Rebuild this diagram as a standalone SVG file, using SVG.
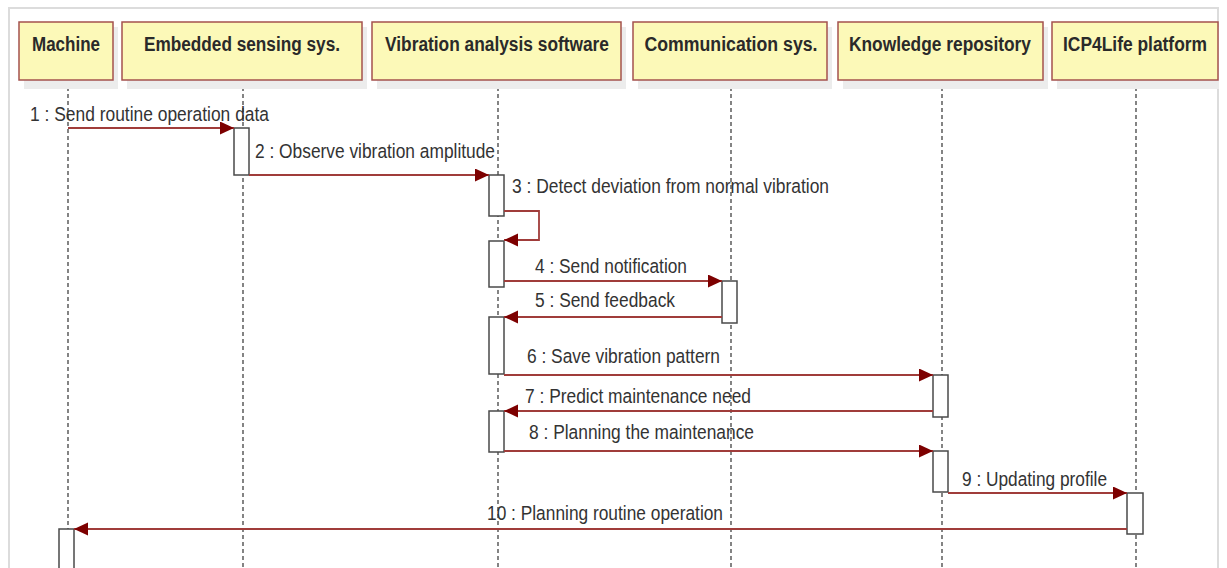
<svg xmlns="http://www.w3.org/2000/svg" width="1227" height="568" viewBox="0 0 1227 568">
<style>
.frame{fill:#fff;stroke:#dcdcdc;stroke-width:2}
.hdr{fill:#fcf9b8;stroke:#a4524e;stroke-width:1.5}
.shadow{fill:#ececec}
.ht{font-family:"Liberation Sans Narrow","Liberation Sans",Arial,sans-serif;font-weight:bold;font-size:20px;fill:#2a2a2a;text-anchor:middle}
.life{stroke:#333;stroke-width:1.2;stroke-dasharray:4 3;fill:none}
.act{fill:#fff;stroke:#4a4a4a;stroke-width:1.5}
.msg{stroke:#a03c3a;stroke-width:1.8;fill:none}
.lbl{font-family:"Liberation Sans Narrow","Liberation Sans",Arial,sans-serif;font-size:20.5px;fill:#333}
</style>
<defs>
<marker id="ah" markerUnits="userSpaceOnUse" markerWidth="16" markerHeight="14" refX="14" refY="6.5" orient="auto">
<path d="M0,0 L14,6.5 L0,13 Z" fill="#7d0000"/>
</marker>
</defs>
<rect x="0" y="0" width="1227" height="568" fill="#fff"/>
<rect class="frame" x="9" y="8" width="1209" height="600"/>

<g id="lifelines">
<line class="life" x1="68" y1="80" x2="68" y2="568"/>
<line class="life" x1="243" y1="80" x2="243" y2="568"/>
<line class="life" x1="498" y1="80" x2="498" y2="568"/>
<line class="life" x1="731" y1="80" x2="731" y2="568"/>
<line class="life" x1="942" y1="80" x2="942" y2="568"/>
<line class="life" x1="1136" y1="80" x2="1136" y2="568"/>
</g>

<g id="machine">
<rect class="shadow" x="24" y="27" width="94" height="62"/>
<rect class="hdr" x="19" y="22" width="94" height="58"/>
<text class="ht" x="66" y="51" textLength="68" lengthAdjust="spacingAndGlyphs">Machine</text>
</g>
<g id="embedded">
<rect class="shadow" x="127" y="27" width="240" height="62"/>
<rect class="hdr" x="122" y="22" width="240" height="58"/>
<text class="ht" x="242" y="51" textLength="196" lengthAdjust="spacingAndGlyphs">Embedded sensing sys.</text>
</g>
<g id="vibration">
<rect class="shadow" x="377" y="27" width="249" height="62"/>
<rect class="hdr" x="372" y="22" width="249" height="58"/>
<text class="ht" x="497" y="51" textLength="224" lengthAdjust="spacingAndGlyphs">Vibration analysis software</text>
</g>
<g id="communication">
<rect class="shadow" x="638" y="27" width="194" height="62"/>
<rect class="hdr" x="633" y="22" width="194" height="58"/>
<text class="ht" x="731" y="51" textLength="173" lengthAdjust="spacingAndGlyphs">Communication sys.</text>
</g>
<g id="knowledge">
<rect class="shadow" x="843" y="27" width="205" height="62"/>
<rect class="hdr" x="838" y="22" width="205" height="58"/>
<text class="ht" x="940" y="51" textLength="182" lengthAdjust="spacingAndGlyphs">Knowledge repository</text>
</g>
<g id="icp4life">
<rect class="shadow" x="1057" y="27" width="162" height="62"/>
<rect class="hdr" x="1052" y="22" width="166" height="58"/>
<text class="ht" x="1135" y="51" textLength="144" lengthAdjust="spacingAndGlyphs">ICP4Life platform</text>
</g>

<g id="activations">
<rect class="act" x="234" y="128" width="15" height="47"/>
<rect class="act" x="489" y="175" width="15" height="41"/>
<rect class="act" x="489" y="241" width="15" height="46"/>
<rect class="act" x="722" y="281" width="15" height="42"/>
<rect class="act" x="489" y="317" width="15" height="57"/>
<rect class="act" x="933" y="375" width="15" height="42"/>
<rect class="act" x="489" y="411" width="15" height="41"/>
<rect class="act" x="933" y="451" width="15" height="41"/>
<rect class="act" x="1127" y="493" width="16" height="41"/>
<rect class="act" x="59" y="529" width="15" height="60"/>
</g>

<g id="connectors">
<line class="msg" x1="68" y1="128" x2="234" y2="128" marker-end="url(#ah)"/>
<line class="msg" x1="249" y1="175" x2="489" y2="175" marker-end="url(#ah)"/>
<polyline class="msg" points="504,211 539,211 539,240 504,240" marker-end="url(#ah)"/>
<line class="msg" x1="504" y1="281" x2="722" y2="281" marker-end="url(#ah)"/>
<line class="msg" x1="722" y1="317" x2="504" y2="317" marker-end="url(#ah)"/>
<line class="msg" x1="504" y1="375" x2="933" y2="375" marker-end="url(#ah)"/>
<line class="msg" x1="933" y1="411" x2="504" y2="411" marker-end="url(#ah)"/>
<line class="msg" x1="504" y1="451" x2="933" y2="451" marker-end="url(#ah)"/>
<line class="msg" x1="948" y1="493" x2="1127" y2="493" marker-end="url(#ah)"/>
<line class="msg" x1="1127" y1="529" x2="74" y2="529" marker-end="url(#ah)"/>
</g>

<g id="labels">
<text class="lbl" x="30" y="121" textLength="239" lengthAdjust="spacingAndGlyphs">1 : Send routine operation data</text>
<text class="lbl" x="255" y="158" textLength="240" lengthAdjust="spacingAndGlyphs">2 : Observe vibration amplitude</text>
<text class="lbl" x="512" y="193" textLength="317" lengthAdjust="spacingAndGlyphs">3 : Detect deviation from normal vibration</text>
<text class="lbl" x="535" y="273" textLength="152" lengthAdjust="spacingAndGlyphs">4 : Send notification</text>
<text class="lbl" x="535" y="307" textLength="140" lengthAdjust="spacingAndGlyphs">5 : Send feedback</text>
<text class="lbl" x="527" y="363" textLength="193" lengthAdjust="spacingAndGlyphs">6 : Save vibration pattern</text>
<text class="lbl" x="525" y="403" textLength="226" lengthAdjust="spacingAndGlyphs">7 : Predict maintenance need</text>
<text class="lbl" x="529" y="439" textLength="225" lengthAdjust="spacingAndGlyphs">8 : Planning the maintenance</text>
<text class="lbl" x="962" y="486" textLength="145" lengthAdjust="spacingAndGlyphs">9 : Updating profile</text>
<text class="lbl" x="487" y="520" textLength="236" lengthAdjust="spacingAndGlyphs">10 : Planning routine operation</text>
</g>
</svg>
